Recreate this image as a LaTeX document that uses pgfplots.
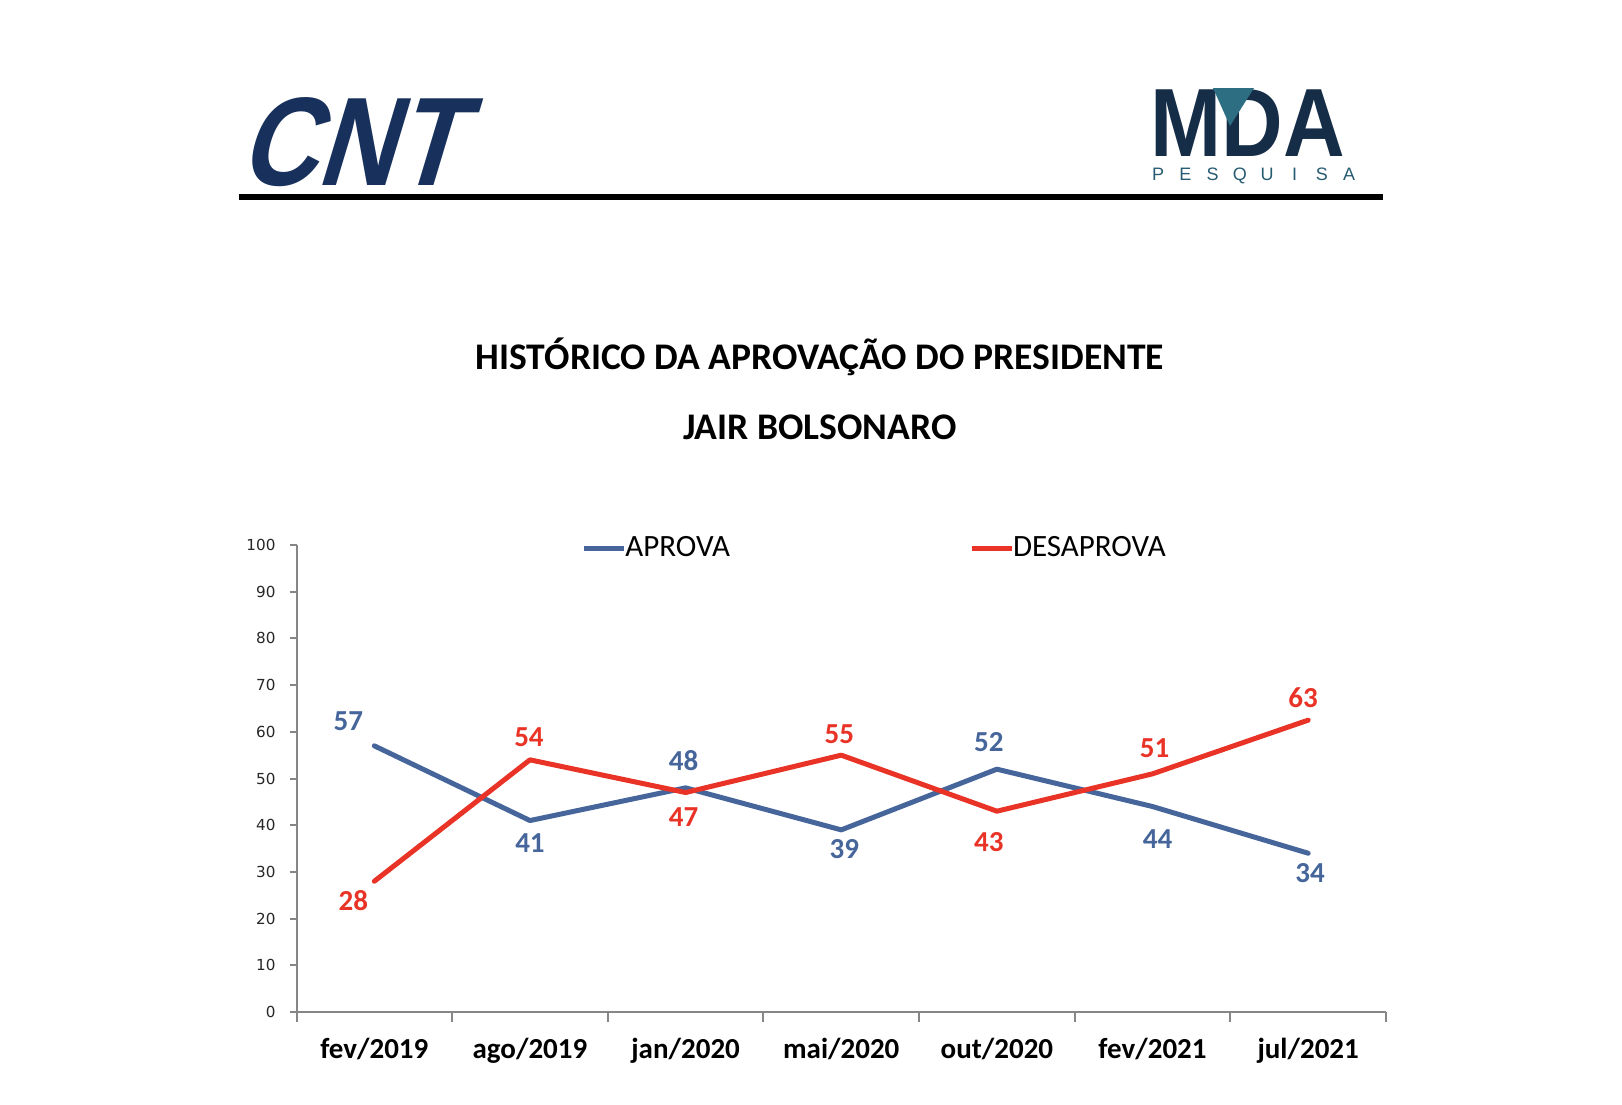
\documentclass[border=0pt]{standalone}
\usepackage{fontspec}
\setmainfont{Carlito}
\newfontfamily\dejavu{DejaVu Sans}
\newfontfamily\cntfont[FakeSlant=0.3,FakeStretch=0.85]{Liberation Sans Bold}
\newfontfamily\mdafont[FakeStretch=0.88]{Liberation Sans Bold}
\newfontfamily\pesqfont{Liberation Sans}
\usepackage{pgfplots}
\usepackage{pgfplotstable}
\pgfplotsset{compat=1.18}
\definecolor{aprova}{RGB}{70,102,155}
\definecolor{desap}{RGB}{233,51,38}
\definecolor{cntblue}{RGB}{23,48,92}
\definecolor{mdanavy}{RGB}{22,45,72}
\definecolor{mdateal}{RGB}{46,110,130}
\definecolor{axgray}{RGB}{134,134,134}

\pgfplotstableread{
x y
0 57
1 41
2 48
3 39
4 52
5 44
6 34
}\aprovatab
\pgfplotstableread{
x y
0 28
1 54
2 47
3 55
4 43
5 51
6 62.5
}\desaptab

% value label: colour, x, y, text, dx(px), dy(px, up)
\newcommand{\lab}[6]{%
  \addplot[draw=none, mark=none, forget plot,
    point meta=explicit symbolic, nodes near coords,
    nodes near coords style={anchor=center, inner sep=0pt, text=#1,
       font=\bfseries\fontsize{14.5}{15}\selectfont,
       xshift=#5*0.5pt, yshift=#6*0.5pt}]
    coordinates {(#2,#3) [#4]};}

\begin{document}
\begin{tikzpicture}
\begin{scope}[x=0.5pt,y=-0.5pt]
\useasboundingbox (0,0) rectangle (1622,1104);
% CNT logo
\node[anchor=south west, inner sep=0pt, text=cntblue, font=\cntfont\fontsize{63}{63}\selectfont] at (238,187) {CNT};
\fill[black] (239,193.5) rectangle (1383,200);
% MDA logo
\node[anchor=south west, inner sep=0pt, text=mdanavy, font=\mdafont\fontsize{48.5}{49}\selectfont] at (1150,157) {MDA};
\fill[mdateal] (1213,88) -- (1254,88) -- (1230,126) -- cycle;
\foreach \l [count=\i from 0] in {P,E,S,Q,U,I,S,A}
  \node[anchor=base, inner sep=0pt, text=mdateal!70!mdanavy, font=\pesqfont\fontsize{9}{9}\selectfont] at (1158+\i*27.3,180) {\l};
% title
\node[anchor=base, inner sep=0pt, font=\bfseries\fontsize{18.8}{19}\selectfont] at (820,369) {HISTÓRICO DA APROVAÇÃO DO PRESIDENTE};
\node[anchor=base, inner sep=0pt, font=\bfseries\fontsize{18.8}{19}\selectfont] at (820,439) {JAIR BOLSONARO};
\end{scope}

\begin{axis}[
  at={(148.25pt,-506pt)}, anchor=south west,
  scale only axis, width=544.75pt, height=233.5pt,
  xmin=-0.5, xmax=6.5, ymin=0, ymax=100,
  axis x line*=bottom, axis y line*=left,
  axis line style={axgray, line width=1pt, -},
  tick align=outside,
  major tick length=3.5pt,
  minor tick length=5pt,
  tick style={axgray, line width=1pt},
  ytick={0,10,...,100},
  /pgf/number format/assume math mode=true,
  yticklabel style={font=\dejavu\fontsize{7.6}{9}\selectfont, text=black!85, xshift=-3.5pt},
  xtick={0,...,6},
  xticklabels={fev/2019,ago/2019,jan/2020,mai/2020,out/2020,fev/2021,jul/2021},
  xticklabel style={font=\bfseries\fontsize{14.5}{15}\selectfont, anchor=base, yshift=-19.5pt},
  major x tick style=transparent,
  minor xtick={-0.5,0.5,...,6.5},
  minor x tick style={axgray, line width=1pt},
  legend style={at={(0.2611,0.9936)}, anchor=west, draw=none, fill=none,
     legend columns=2, font=\fontsize{15.5}{16}\selectfont,
     /tikz/every even column/.append style={column sep=117.5pt},
     inner sep=0pt},
  legend image code/.code={\draw[#1, line cap=butt] (0pt,0pt) -- (20pt,0pt);},
  legend cell align=left,
  clip=false,
]
\addplot[aprova, line width=2.5pt, line join=round, line cap=round, mark=none]
  table[x=x, y=y]{\aprovatab};
\addlegendentry{\hspace*{-2.5pt}APROVA}
\addplot[desap, line width=2.5pt, line join=round, line cap=round, mark=none]
  table[x=x, y=y]{\desaptab};
\addlegendentry{\hspace*{-2.5pt}DESAPROVA}
\lab{aprova}{0}{57}{57}{-26}{25}
\lab{aprova}{1}{41}{41}{0}{-23}
\lab{aprova}{2}{48}{48}{-2}{27}
\lab{aprova}{3}{39}{39}{3}{-19}
\lab{aprova}{4}{52}{52}{-8}{27}
\lab{aprova}{5}{44}{44}{5}{-33}
\lab{aprova}{6}{34}{34}{2}{-20}
\lab{desap}{0}{28}{28}{-21}{-19}
\lab{desap}{1}{54}{54}{-1}{23}
\lab{desap}{2}{47}{47}{-2}{-25}
\lab{desap}{3}{55}{55}{-2}{21}
\lab{desap}{4}{43}{43}{-8}{-31}
\lab{desap}{5}{51}{51}{2}{26}
\lab{desap}{6}{62.5}{63}{-5}{22}
\end{axis}
\end{tikzpicture}
\end{document}
